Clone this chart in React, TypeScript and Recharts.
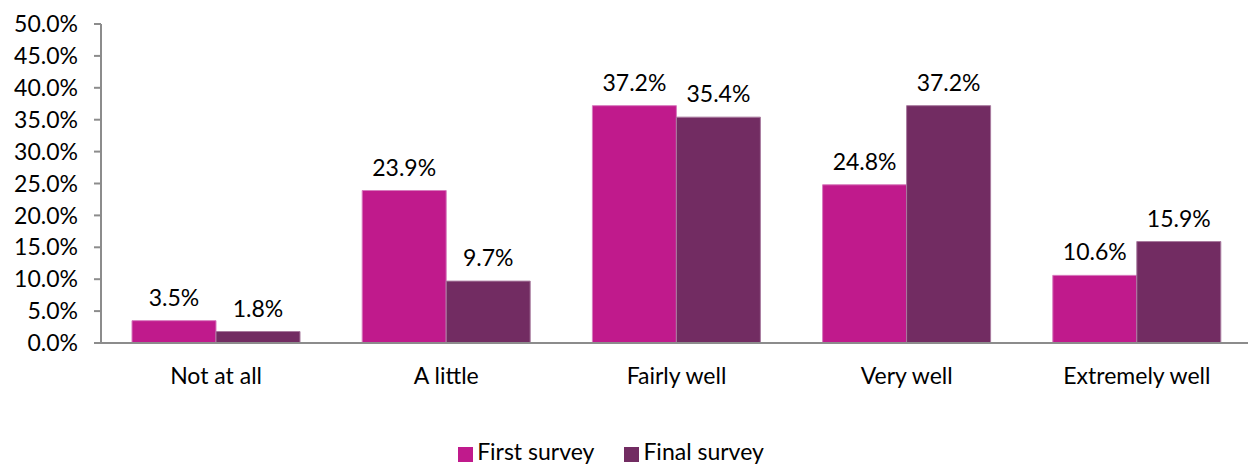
import React from 'react';
import {
  BarChart,
  Bar,
  XAxis,
  YAxis,
  Legend,
  LabelList,
} from 'recharts';

const CATEGORIES = ['Not at all', 'A little', 'Fairly well', 'Very well', 'Extremely well'];
const FIRST_SURVEY = [3.5, 23.9, 37.2, 24.8, 10.6];
const FINAL_SURVEY = [1.8, 9.7, 35.4, 37.2, 15.9];
const Y_TICKS = [0, 5, 10, 15, 20, 25, 30, 35, 40, 45, 50];

const FIRST_COLOR = '#c01a8c'; // magenta
const FINAL_COLOR = '#722c62'; // plum

const data = CATEGORIES.map((name, i) => ({
  name,
  first: FIRST_SURVEY[i],
  final: FINAL_SURVEY[i],
}));

const FONT = 'Lato, sans-serif';
const FS = 23;
const pct = (v: number) => `${v.toFixed(1)}%`;
const SERIES_ORDER = ['First survey', 'Final survey'];

const App: React.FC = () => {
  return (
    <div style={{ margin: '-8px 0 0 -8px', fontFamily: FONT }}>
      <BarChart
        width={1256}
        height={465}
        data={data}
        margin={{ top: 24, right: 4, left: 0, bottom: 0 }}
        barCategoryGap={31}
        barGap={0}
      >
        <XAxis
          dataKey="name"
          axisLine={{ stroke: '#8c8c8c', strokeWidth: 2 }}
          tickLine={false}
          tick={{ fill: '#000', fontSize: FS, fontFamily: FONT }}
          tickMargin={19}
          height={94}
        />
        <YAxis
          domain={[0, 50]}
          ticks={Y_TICKS}
          tickFormatter={pct}
          axisLine={{ stroke: '#8c8c8c', strokeWidth: 2 }}
          tickLine={{ stroke: '#8c8c8c', strokeWidth: 2 }}
          tickSize={7}
          tickMargin={16}
          tick={{ fill: '#000', fontSize: FS, fontFamily: FONT }}
          width={101}
          interval={0}
        />
        <Legend
          verticalAlign="bottom"
          align="center"
          iconType="square"
          iconSize={15}
          itemSorter={(item: any) => SERIES_ORDER.indexOf(item.value)}
          wrapperStyle={{ fontSize: FS, fontFamily: FONT, bottom: 0 }}
          formatter={(value: string) => <span style={{ color: '#000', marginRight: 20 }}>{value}</span>}
        />
        <Bar
          dataKey="first"
          name="First survey"
          fill={FIRST_COLOR}
          stroke="#d77bbd"
          strokeWidth={1}
          isAnimationActive={false}
        >
          <LabelList dataKey="first" position="top" offset={15} formatter={pct} fill="#000" fontSize={FS} fontFamily={FONT} />
        </Bar>
        <Bar
          dataKey="final"
          name="Final survey"
          fill={FINAL_COLOR}
          stroke="#a87a9e"
          strokeWidth={1}
          isAnimationActive={false}
        >
          <LabelList dataKey="final" position="top" offset={15} formatter={pct} fill="#000" fontSize={FS} fontFamily={FONT} />
        </Bar>
      </BarChart>
    </div>
  );
};

export default App;
